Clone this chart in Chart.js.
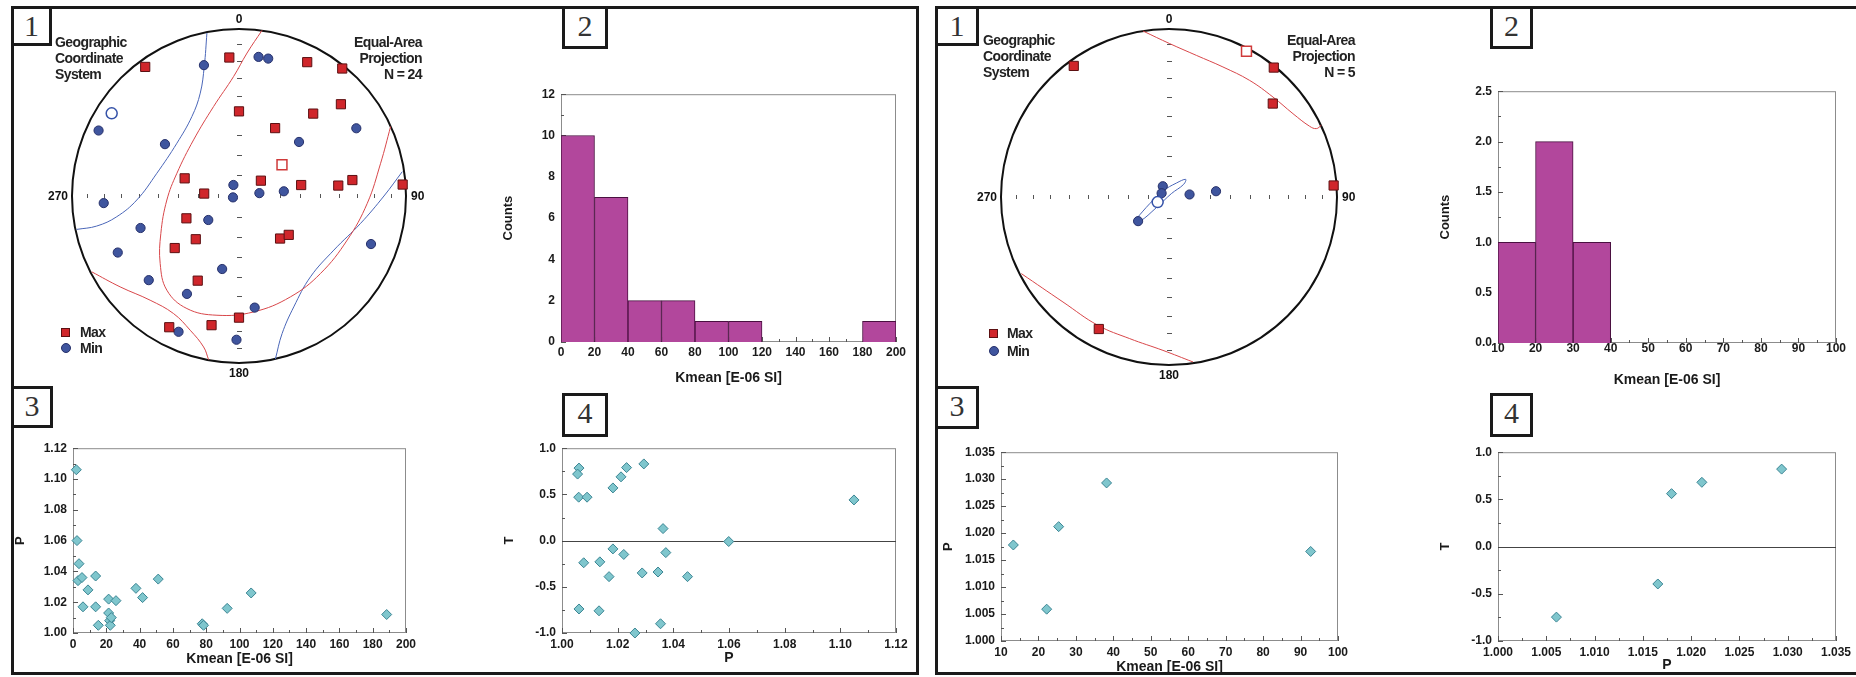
<!DOCTYPE html>
<html>
<head>
<meta charset="utf-8">
<script src="https://cdn.jsdelivr.net/npm/chart.js@4.4.1/dist/chart.umd.min.js"></script>
<style>
body{margin:0;background:#fff;width:1856px;height:677px;overflow:hidden;position:relative;font-family:"Liberation Sans",Arial,sans-serif}
.frame{position:absolute;border:3px solid #1a1a1a;box-sizing:border-box}
.tag{position:absolute;border:3px solid #1a1a1a;box-sizing:border-box;background:#fff;font:30px "Liberation Serif",serif;color:#333;text-align:center;line-height:34px}
.txt{position:absolute;font-weight:bold;font-size:14px;line-height:16px;letter-spacing:-0.6px;color:#222;white-space:nowrap}
.sq{position:absolute;width:9px;height:9px;background:#d0262b;border:1px solid #5c1012;box-sizing:border-box}
.dot{position:absolute;width:10px;height:10px;background:#3f559e;border:1px solid #26306a;border-radius:50%;box-sizing:border-box}
canvas{position:absolute}
</style>
</head>
<body>
<div class="frame" style="left:11px;top:6px;width:908px;height:669px"></div>
<div class="frame" style="left:935px;top:6px;width:1000px;height:669px"></div>
<div class="tag" style="left:11px;top:6px;width:41px;height:40px">1</div>
<div class="tag" style="left:562px;top:6px;width:46px;height:43px">2</div>
<div class="tag" style="left:11px;top:386px;width:42px;height:42px">3</div>
<div class="tag" style="left:562px;top:393px;width:46px;height:44px">4</div>
<div class="tag" style="left:935px;top:6px;width:44px;height:40px">1</div>
<div class="tag" style="left:1490px;top:6px;width:43px;height:43px">2</div>
<div class="tag" style="left:935px;top:386px;width:44px;height:43px">3</div>
<div class="tag" style="left:1490px;top:393px;width:43px;height:44px">4</div>
<script>
'use strict'

// ---- stereonet, site A (declination / inclination, degrees)
var maxDecA = [324,356,27,39,0,42,48,28,288,55,274,80,84,82,86,247,225,231,136,128,206,180,192,208];
var maxIncA = [5,18,11,2,48,34,19,52,62,77,73,59,40,32,2,62,60,49,61,59,43,28,22,12];
var minDecA = [345,8,12,295,305,60,48,333,257,82,84,267,232,252,245,110,193,227,208,172,204,181];
var minIncA = [20,17,17,8,45,20,50,84,87,80,68,20,71,38,21,17,53,27,34,33,12,15];
var maxMeanA = [54, 64];
var minMeanA = [303, 10];
// confidence contours, [east, north] in net radius units
var redA1 = [[0.138,0.992],[0.048,0.856],[-0.032,0.716],[-0.152,0.536],[-0.272,0.336],[-0.372,0.136],[-0.432,-0.024],[-0.468,-0.224],[-0.472,-0.404],[-0.432,-0.564],[-0.312,-0.674],[-0.132,-0.714],[0.088,-0.694],[0.308,-0.604],[0.488,-0.464],[0.648,-0.264],[0.768,-0.044],[0.848,0.196],[0.908,0.416]];
var redA2 = [[-0.882,-0.454],[-0.712,-0.544],[-0.532,-0.624],[-0.392,-0.704],[-0.292,-0.804],[-0.212,-0.904],[-0.182,-0.98]];
var blueA1 = [[-0.192,0.976],[-0.208,0.776],[-0.232,0.616],[-0.282,0.476],[-0.372,0.316],[-0.492,0.136],[-0.612,-0.024],[-0.732,-0.124],[-0.852,-0.18],[-0.972,-0.2]];
var blueA2 = [[0.978,0.146],[0.868,0.0],[0.728,-0.164],[0.568,-0.324],[0.428,-0.484],[0.328,-0.664],[0.258,-0.824],[0.218,-0.976]];

// ---- stereonet, site B
var maxDecB = [324,39,48,86,208];
var maxIncB = [4,1,18,2,12];
var minDecB = [330,297,83,83,232];
var minIncB = [84,86,80,67,71];
var maxMeanB = [28, 2];
var minMeanB = [246, 84];
var redB1 = [[-0.155,0.988],[0.004,0.913],[0.163,0.843],[0.321,0.774],[0.48,0.694],[0.619,0.595],[0.738,0.496],[0.837,0.421],[0.877,0.407],[0.907,0.427]];
var redB2 = [[-0.879,-0.456],[-0.631,-0.625],[-0.423,-0.764],[-0.234,-0.843],[-0.036,-0.913],[0.143,-0.982]];
var blueB1 = [[-0.194,-0.129],[-0.115,-0.04],[-0.036,0.036],[0.044,0.083],[0.099,0.105],[0.087,0.075],[0.014,0.02],[-0.075,-0.063],[-0.175,-0.145],[-0.194,-0.129]];

// ---- histograms of Kmean
var binsA = [0,20,40,60,80,100,120,140,160,180,200];
var countsA = [10,7,2,2,1,1,0,0,0,1];
var binsB = [10,20,30,40,50,60,70,80,90,100];
var countsB = [1,2,1,0,0,0,0,0,0];

// ---- Kmean vs P
var kmeanA = [2,2.4,3.6,3,5.4,6,9,13.6,13.6,15.2,21.4,25.8,21.4,22,22.4,23,37.8,41.8,51.2,77.6,78.4,92.6,107,188.4];
var pA = [1.106,1.060,1.045,1.034,1.036,1.017,1.028,1.037,1.017,1.005,1.022,1.021,1.013,1.008,1.005,1.010,1.029,1.023,1.035,1.006,1.005,1.016,1.026,1.012];
var kmeanB = [13.3,22.2,25.4,38.2,92.7];
var pB = [1.0178,1.0059,1.0212,1.0293,1.0166];

// ---- P vs T
var pA2 = [1.0061,1.0056,1.006,1.009,1.0183,1.0212,1.0232,1.0294,1.0363,1.1049,1.0599,1.0078,1.0136,1.0183,1.0222,1.0169,1.0288,1.0345,1.0373,1.0451,1.0061,1.0133,1.0262,1.0354];
var tA = [0.785,0.72,0.47,0.47,0.57,0.69,0.79,0.83,0.13,0.44,-0.01,-0.24,-0.23,-0.09,-0.15,-0.39,-0.35,-0.34,-0.13,-0.39,-0.74,-0.76,-1.0,-0.90];
var pB2 = [1.00605,1.01655,1.01797,1.02111,1.02937];
var tB = [-0.747,-0.396,0.561,0.681,0.821];

Chart.defaults.font.family = '"Liberation Sans", Arial, sans-serif';
Chart.defaults.font.size = 12;
Chart.defaults.font.weight = 'bold';
Chart.defaults.color = '#1a1a1a';
Chart.defaults.animation = false;
Chart.defaults.responsive = false;
Chart.defaults.events = [];
Chart.defaults.plugins.legend.display = false;
Chart.defaults.plugins.tooltip.enabled = false;

var RAD = Math.PI / 180;
function project(dec, inc) {
  var r = Math.SQRT2 * Math.sin((90 - inc) / 2 * RAD);
  return {x: r * Math.sin(dec * RAD), y: r * Math.cos(dec * RAD)};
}
function pts(decs, incs) { return decs.map(function (d, i) { return project(d, incs[i]); }); }
function curve(arr) { return arr.map(function (p) { return {x: p[0], y: p[1]}; }); }
function pairs(xs, ys) { return xs.map(function (v, i) { return {x: v, y: ys[i]}; }); }
function hist(edges, counts) { return counts.map(function (c, i) { return {x: (edges[i] + edges[i + 1]) / 2, y: c}; }); }

function text(html, left, top, right) {
  var d = document.createElement('div');
  d.className = 'txt';
  d.innerHTML = html;
  d.style.top = top + 'px';
  if (right) { d.style.right = (1856 - left) + 'px'; d.style.textAlign = 'right'; }
  else d.style.left = left + 'px';
  document.body.appendChild(d);
}
function mark(cls, left, top) {
  var d = document.createElement('div');
  d.className = cls; d.style.left = left + 'px'; d.style.top = top + 'px';
  document.body.appendChild(d);
}

// frame + inward ticks for the xy plots
var boxPlugin = {
  id: 'box',
  beforeDatasetsDraw: function (chart, args, opts) {
    var ctx = chart.ctx, a = chart.chartArea, xs = chart.scales.x, ys = chart.scales.y;
    ctx.save();
    ctx.strokeStyle = '#8c8c8c'; ctx.lineWidth = 1;
    ctx.strokeRect(a.left + 0.5, a.top + 0.5, a.width - 1, a.height - 1);
    ctx.strokeStyle = '#555';
    ctx.beginPath();
    xs.ticks.forEach(function (t, i) {
      var px = Math.round(xs.getPixelForValue(t.value)) + 0.5;
      ctx.moveTo(px, a.bottom); ctx.lineTo(px, a.bottom - 5);
      if (i < xs.ticks.length - 1) {
        var m = Math.round(xs.getPixelForValue((t.value + xs.ticks[i + 1].value) / 2)) + 0.5;
        ctx.moveTo(m, a.bottom); ctx.lineTo(m, a.bottom - 3);
      }
    });
    ys.ticks.forEach(function (t, i) {
      var py = Math.round(ys.getPixelForValue(t.value)) + 0.5;
      ctx.moveTo(a.left, py); ctx.lineTo(a.left + 5, py);
      if (i < ys.ticks.length - 1) {
        var m = Math.round(ys.getPixelForValue((t.value + ys.ticks[i + 1].value) / 2)) + 0.5;
        ctx.moveTo(a.left, m); ctx.lineTo(a.left + 3, m);
      }
    });
    ctx.stroke();
    if (opts && opts.zero) {
      var py0 = Math.round(ys.getPixelForValue(0)) + 0.5;
      ctx.strokeStyle = '#444';
      ctx.beginPath(); ctx.moveTo(a.left, py0); ctx.lineTo(a.right, py0); ctx.stroke();
    }
    ctx.restore();
  }
};

function axis(min, max, step, dec, title, fs, pad, titlePad, fit) {
  return {
    type: 'linear', min: min, max: max, offset: false,
    grid: {display: false, drawTicks: false}, border: {display: false},
    ticks: {stepSize: step, padding: pad, maxRotation: 0, autoSkip: false,
      callback: function (v) { return Number(v).toFixed(dec); }},
    title: {display: true, text: title, font: {size: fs, weight: 'bold'}, padding: titlePad},
    afterFit: fit
  };
}

function xyChart(plot, type, datasets, x, y, zero) {
  var LW = 70, BH = 50, PT = 12, PR = 26;
  var cv = document.createElement('canvas');
  cv.width = plot.w + LW + PR; cv.height = plot.h + PT + BH;
  cv.style.left = (plot.l - LW) + 'px'; cv.style.top = (plot.t - PT) + 'px';
  document.body.appendChild(cv);
  var xs = axis(x.min, x.max, x.step, x.dec, x.title, 14, x.pad,
    {top: 0, bottom: BH - 8.4 - x.gap}, function (s) { s.height = BH; });
  var ys = axis(y.min, y.max, y.step, y.dec, y.title, 13, 6,
    {top: 17 - 7.8, bottom: 0}, function (s) { s.width = LW; });
  return new Chart(cv, {
    type: type,
    data: {datasets: datasets},
    options: {
      layout: {padding: {left: 0, top: PT, right: PR, bottom: 0}},
      scales: {x: xs, y: ys},
      plugins: {box: {zero: !!zero}}
    },
    plugins: [boxPlugin]
  });
}

function histSet(data) {
  return {data: data, backgroundColor: '#b2479c', borderColor: '#4a1040', borderWidth: 1,
    barPercentage: 1, categoryPercentage: 1};
}
function diamonds(data) {
  return {data: data, pointStyle: 'rectRot', pointRadius: 5, backgroundColor: '#7fc6cd',
    borderColor: '#3b8593', borderWidth: 1, clip: false};
}

// stereonet: primitive circle, axis ticks and direction labels
var netPlugin = {
  id: 'net',
  beforeDatasetsDraw: function (chart) {
    var ctx = chart.ctx, xs = chart.scales.x, ys = chart.scales.y;
    var cx = xs.getPixelForValue(0), cy = ys.getPixelForValue(0);
    var r = xs.getPixelForValue(1) - cx;
    ctx.save();
    ctx.strokeStyle = '#555'; ctx.lineWidth = 1;
    ctx.beginPath();
    for (var inc = 10; inc < 90; inc += 10) {
      var d = Math.SQRT2 * Math.sin((90 - inc) / 2 * RAD) * r;
      [-1, 1].forEach(function (s) {
        var px = Math.round(cx + s * d) + 0.5, py = Math.round(cy + s * d) + 0.5;
        ctx.moveTo(px, cy - 2); ctx.lineTo(px, cy + 2);
        ctx.moveTo(cx - 2, py); ctx.lineTo(cx + 3, py);
      });
    }
    ctx.stroke();
    ctx.strokeStyle = '#111'; ctx.lineWidth = 2;
    ctx.beginPath(); ctx.arc(cx, cy, r, 0, 2 * Math.PI); ctx.stroke();
    ctx.fillStyle = '#111';
    ctx.font = 'bold 12px "Liberation Sans", Arial, sans-serif';
    ctx.textBaseline = 'middle';
    ctx.textAlign = 'center';
    ctx.fillText('0', cx, cy - r - 9);
    ctx.fillText('180', cx, cy + r + 11);
    ctx.textAlign = 'right'; ctx.fillText('270', cx - r - 4, cy + 1);
    ctx.textAlign = 'left'; ctx.fillText('90', cx + r + 5, cy + 1);
    ctx.restore();
  }
};

function netChart(cx, cy, r, maxD, maxI, minD, minI, maxMean, minMean, reds, blues) {
  var P = 34;
  var cv = document.createElement('canvas');
  cv.width = 2 * r + 2 * P; cv.height = 2 * r + 2 * P;
  cv.style.left = (cx - r - P) + 'px'; cv.style.top = (cy - r - P) + 'px';
  document.body.appendChild(cv);
  var sets = [
    {data: [project(maxMean[0], maxMean[1])], pointStyle: 'rect', pointRadius: 7, backgroundColor: '#fff', borderColor: '#cf3a3a', borderWidth: 1.5, order: 0},
    {data: [project(minMean[0], minMean[1])], pointStyle: 'circle', pointRadius: 5.5, backgroundColor: '#fff', borderColor: '#3552a8', borderWidth: 1.5, order: 0},
    {data: pts(maxD, maxI), pointStyle: 'rect', pointRadius: 6.5, backgroundColor: '#d0262b', borderColor: '#5c1012', borderWidth: 1, order: 1},
    {data: pts(minD, minI), pointStyle: 'circle', pointRadius: 4.6, backgroundColor: '#3f559e', borderColor: '#26306a', borderWidth: 1, order: 1}
  ];
  reds.forEach(function (c) {
    sets.push({data: curve(c), showLine: true, pointRadius: 0, borderColor: '#d8474a', borderWidth: 1, tension: 0.4, order: 5});
  });
  blues.forEach(function (c) {
    sets.push({data: curve(c), showLine: true, pointRadius: 0, borderColor: '#4a66b8', borderWidth: 1, tension: 0.4, order: 5});
  });
  sets.forEach(function (s) { s.clip = false; });
  return new Chart(cv, {
    type: 'scatter',
    data: {datasets: sets},
    options: {
      layout: {padding: P},
      scales: {x: {display: false, min: -1, max: 1}, y: {display: false, min: -1, max: 1}}
    },
    plugins: [netPlugin]
  });
}

// ---------- left figure (site A)
netChart(239, 196, 167, maxDecA, maxIncA, minDecA, minIncA, maxMeanA, minMeanA, [redA1, redA2], [blueA1, blueA2]);
text('Geographic<br>Coordinate<br>System', 55, 34);
text('Equal-Area<br>Projection<br>N = ' + maxDecA.length, 422, 34, true);
mark('sq', 61, 328); text('Max', 80, 324);
mark('dot', 61, 343); text('Min', 80, 340);

xyChart({l: 561, t: 93, w: 335, h: 249}, 'bar', [histSet(hist(binsA, countsA))],
  {min: 0, max: 200, step: 20, dec: 0, title: 'Kmean [E-06 SI]', pad: 3, gap: 36},
  {min: 0, max: 12, step: 2, dec: 0, title: 'Counts'});

xyChart({l: 73, t: 447, w: 333, h: 186}, 'scatter', [diamonds(pairs(kmeanA, pA))],
  {min: 0, max: 200, step: 20, dec: 0, title: 'Kmean [E-06 SI]', pad: 4, gap: 26},
  {min: 1.0, max: 1.12, step: 0.02, dec: 2, title: 'P'});

xyChart({l: 562, t: 447, w: 334, h: 186}, 'scatter', [diamonds(pairs(pA2, tA))],
  {min: 1.0, max: 1.12, step: 0.02, dec: 2, title: 'P', pad: 4, gap: 25},
  {min: -1, max: 1, step: 0.5, dec: 1, title: 'T'}, true);

// ---------- right figure (site B)
netChart(1169, 197, 168, maxDecB, maxIncB, minDecB, minIncB, maxMeanB, minMeanB, [redB1, redB2], [blueB1]);
text('Geographic<br>Coordinate<br>System', 983, 32);
text('Equal-Area<br>Projection<br>N = ' + maxDecB.length, 1355, 32, true);
mark('sq', 989, 329); text('Max', 1007, 325);
mark('dot', 989, 346); text('Min', 1007, 343);

xyChart({l: 1498, t: 90, w: 338, h: 253}, 'bar', [histSet(hist(binsB, countsB))],
  {min: 10, max: 100, step: 10, dec: 0, title: 'Kmean [E-06 SI]', pad: -2, gap: 37},
  {min: 0, max: 2.5, step: 0.5, dec: 1, title: 'Counts'});

xyChart({l: 1001, t: 451, w: 337, h: 190}, 'scatter', [diamonds(pairs(kmeanB, pB))],
  {min: 10, max: 100, step: 10, dec: 0, title: 'Kmean [E-06 SI]', pad: 4, gap: 26},
  {min: 1.0, max: 1.035, step: 0.005, dec: 3, title: 'P'});

xyChart({l: 1498, t: 451, w: 338, h: 190}, 'scatter', [diamonds(pairs(pB2, tB))],
  {min: 1.0, max: 1.035, step: 0.005, dec: 3, title: 'P', pad: 4, gap: 24},
  {min: -1, max: 1, step: 0.5, dec: 1, title: 'T'}, true);
</script>
</body>
</html>
